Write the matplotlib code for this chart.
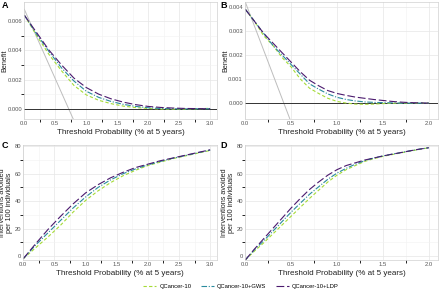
import matplotlib.pyplot as plt
from matplotlib.lines import Line2D

plt.rcParams["font.family"] = ["Liberation Sans", "DejaVu Sans"]

# ---- data ----
# panel A: benefit, threshold 0..3 %
xa = [0.0, 0.2, 0.4, 0.6, 0.8, 1.0, 1.2, 1.4, 1.6, 1.8, 2.0, 2.2, 2.4, 2.6, 2.8, 3.0]
a_q10 = [0.0064, 0.0050, 0.0037, 0.0026, 0.0016, 0.00095, 0.00058, 0.00035, 0.00018, 0.00008,
         0.00002, -0.00002, -0.00003, -0.00002, 0.0, 0.00003]
a_gws = [0.0064, 0.0051, 0.0039, 0.0028, 0.0019, 0.00120, 0.00078, 0.00050, 0.00030, 0.00016,
         0.00007, 0.00002, 0.0, -0.00001, 0.0, 0.0]
a_ldp = [0.0064, 0.0052, 0.0040, 0.0030, 0.0021, 0.00145, 0.00100, 0.00068, 0.00045, 0.00028,
         0.00016, 0.00009, 0.00005, 0.00002, 0.00001, 0.0]
a_all_x = [0.0, 0.8]
a_all_y = [0.0068, -0.0008]

# panel B: benefit, threshold 0..2 %
xb = [0.0, 0.1, 0.2, 0.3, 0.4, 0.5, 0.6, 0.7, 0.8, 0.9, 1.0,
      1.1, 1.2, 1.3, 1.4, 1.5, 1.6, 1.7, 1.8, 1.9, 2.0]
b_q10 = [0.0039, 0.0034, 0.0028, 0.0024, 0.0019, 0.0015, 0.0010, 0.00062, 0.00040, 0.00020, 0.00007,
         0.0, -0.00004, -0.00005, -0.00004, -0.00002, -0.00001, 0.0, 0.0, 0.0, 0.0]
b_gws = [0.0039, 0.0034, 0.0029, 0.0024, 0.0020, 0.0016, 0.0012, 0.00080, 0.00058, 0.00038, 0.00024,
         0.00015, 0.00009, 0.00005, 0.00003, 0.00002, 0.00001, 0.0, 0.0, 0.0, 0.0]
b_ldp = [0.0039, 0.0034, 0.0029, 0.0025, 0.0021, 0.0017, 0.0013, 0.00095, 0.00072, 0.00052, 0.00040,
         0.00032, 0.00025, 0.00020, 0.00015, 0.00011, 0.00007, 0.00004, 0.00002, 0.00001, 0.0]
b_all_x = [0.0, 0.5]
b_all_y = [0.0042, -0.0008]

# panel C: interventions avoided, threshold 0..3 %
c_q10 = [-2, 6, 14, 22.5, 32, 40.5, 47.5, 53.5, 58.5, 62.5, 66, 68.5, 71, 73, 75, 77]
c_gws = [-2, 8, 17, 26, 35, 43, 50, 55.5, 60, 63.5, 66.5, 69, 71.3, 73.3, 75.3, 77.3]
c_ldp = [-2, 9, 19.5, 29, 38, 46, 52, 57, 61, 64.5, 67, 69.5, 71.5, 73.5, 75.5, 77.5]

# panel D: interventions avoided, threshold 0..2 %
d_q10 = [-3, 3.5, 9.5, 16, 22.5, 29, 35.5, 42, 48, 54, 59, 63, 66, 69, 71, 72.7, 74, 75.3, 76.6, 77.8, 79]
d_gws = [-3, 4.5, 11, 18, 25, 32, 38.5, 45, 50.5, 56, 60.5, 64, 67, 69.5, 71.5, 73, 74.3, 75.5, 76.8, 78, 79]
d_ldp = [-3, 5, 12.5, 20, 27.5, 35, 42, 48.5, 54, 59, 63, 66, 68, 70, 71.5, 73, 74.3, 75.5, 76.8, 78, 79]

labels = ["QCancer-10", "QCancer-10+GWS", "QCancer-10+LDP"]
colors = ["#a5db36", "#2a8b9e", "#4b1a6e"]
dashes = [(3, 2), (5, 1.5, 1, 1.5), (7, 2.5)]

xlab = "Threshold Probability (% at 5 years)"
W, H = 440, 290
fig = plt.figure(figsize=(4.4, 2.9), dpi=100)


def make_ax(l, t, r, b):
    ax = fig.add_axes([l / W, 1 - b / H, (r - l) / W, (b - t) / H])
    for s in ax.spines.values():
        s.set_color("#d0d0d0")
        s.set_linewidth(0.5)
    ax.grid(True, which="major", color="#e6e6e6", linewidth=0.5)
    ax.grid(True, which="minor", color="#f2f2f2", linewidth=0.4)
    ax.tick_params(length=0, labelsize=4.2, labelcolor="#555555", pad=1.5)
    ax.set_axisbelow(True)
    ax.set_xlabel(xlab, fontsize=5.8, labelpad=2, color="#222222")
    return ax


def set_ylab(ax, text, l, r, edge_px):
    # edge_px: right edge of the rotated label, in figure pixels
    ax.set_ylabel(text, fontsize=5.2, color="#222222", linespacing=1.0)
    ax.yaxis.set_label_coords((edge_px - l) / (r - l), 0.5)


def draw(ax, x, series):
    for ys, c, d in zip(series, colors, dashes):
        ax.plot(x, ys, color=c, lw=0.8, dashes=d)


# A
ax = make_ax(24, 2, 217, 119)
ax.plot(a_all_x, a_all_y, color="#bdbdbd", lw=0.7)
ax.axhline(0, color="#333333", lw=0.7)
draw(ax, xa, [a_q10, a_gws, a_ldp])
ax.set_xlim(-0.005, 3.11)
ax.set_ylim(-0.0007, 0.0073)
ax.set_xticks([0, 0.5, 1, 1.5, 2, 2.5, 3])
ax.set_xticks([0.25, 0.75, 1.25, 1.75, 2.25, 2.75], minor=True)
ax.set_yticks([0, 0.002, 0.004, 0.006])
ax.set_yticks([0.001, 0.003, 0.005], minor=True)
ax.set_xticklabels(["0.0", "0.5", "1.0", "1.5", "2.0", "2.5", "3.0"])
ax.set_yticklabels(["0.000", "0.002", "0.004", "0.006"])
set_ylab(ax, "Benefit", 24, 217, 8)

# B
ax = make_ax(245, 2, 438, 119)
ax.plot(b_all_x, b_all_y, color="#bdbdbd", lw=0.7)
ax.axhline(0, color="#333333", lw=0.7)
draw(ax, xb, [b_q10, b_gws, b_ldp])
ax.set_xlim(-0.003, 2.1)
ax.set_ylim(-0.00066, 0.0042)
ax.set_xticks([0, 0.5, 1, 1.5, 2])
ax.set_xticks([0.25, 0.75, 1.25, 1.75], minor=True)
ax.set_yticks([0, 0.001, 0.002, 0.003, 0.004])
ax.set_xticklabels(["0.0", "0.5", "1.0", "1.5", "2.0"])
ax.set_yticklabels(["0.000", "0.001", "0.002", "0.003", "0.004"])
set_ylab(ax, "Benefit", 245, 438, 229)

# C
ax = make_ax(23, 145, 217, 260)
draw(ax, xa, [c_q10, c_gws, c_ldp])
ax.set_xlim(-0.005, 3.11)
ax.set_ylim(-3, 81)
ax.set_xticks([0, 0.5, 1, 1.5, 2, 2.5, 3])
ax.set_xticks([0.25, 0.75, 1.25, 1.75, 2.25, 2.75], minor=True)
ax.set_yticks([0, 20, 40, 60, 80])
ax.set_yticks([10, 30, 50, 70], minor=True)
ax.set_xticklabels(["0.0", "0.5", "1.0", "1.5", "2.0", "2.5", "3.0"])
set_ylab(ax, "Interventions avoided\nper 100 individuals", 23, 217, 13)

# D
ax = make_ax(245, 145, 438, 260)
draw(ax, xb, [d_q10, d_gws, d_ldp])
ax.set_xlim(-0.003, 2.1)
ax.set_ylim(-3, 81)
ax.set_xticks([0, 0.5, 1, 1.5, 2])
ax.set_xticks([0.25, 0.75, 1.25, 1.75], minor=True)
ax.set_yticks([0, 20, 40, 60, 80])
ax.set_yticks([10, 30, 50, 70], minor=True)
ax.set_xticklabels(["0.0", "0.5", "1.0", "1.5", "2.0"])
set_ylab(ax, "Interventions avoided\nper 100 individuals", 245, 438, 235)

# panel letters
for lab, px, py in [("A", 2, 5), ("B", 220, 5), ("C", 2, 146), ("D", 220, 146)]:
    fig.text(px / W, 1 - py / H, lab, fontsize=6.5, fontweight="bold", va="center")

handles = [Line2D([0], [0], color=c, lw=0.8, dashes=d) for c, d in zip(colors, dashes)]
fig.legend(handles, labels, loc="center", bbox_to_anchor=(241 / W, 1 - 286 / H), ncol=3,
           frameon=False, fontsize=4.2, handlelength=2.2, columnspacing=1.6, handletextpad=0.6,
           borderpad=0)

fig.savefig("out.png", dpi=100)
